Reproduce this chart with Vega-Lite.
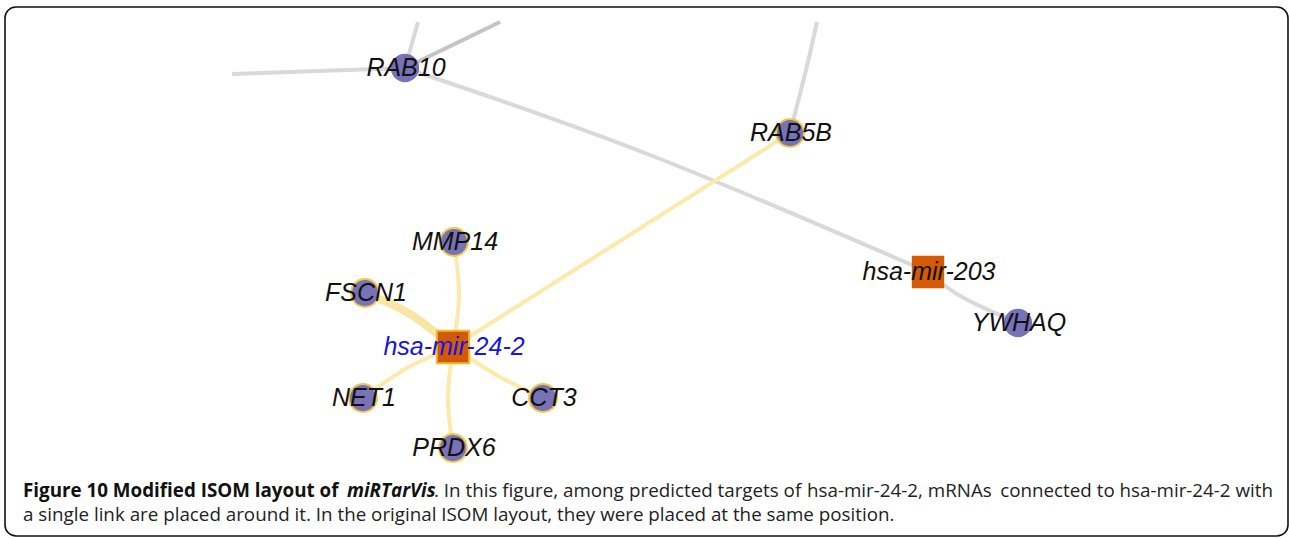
{
  "$schema": "https://vega.github.io/schema/vega-lite/v6.json",
  "width": 1289,
  "height": 538,
  "autosize": {"type": "fit", "contains": "padding"},
  "padding": 0,
  "background": "white",
  "config": {"view": {"stroke": null}},
  "datasets": {
    "frame": [{"x": 5, "x2": 1288, "y": 7, "y2": 536}],
    "edges": [
      {"id": "RAB10-left", "kind": "gray", "o": 1, "x": 232, "y": 74},
      {"id": "RAB10-left", "kind": "gray", "o": 2, "x": 405, "y": 68},
      {"id": "RAB10-up", "kind": "gray", "o": 1, "x": 418, "y": 22},
      {"id": "RAB10-up", "kind": "gray", "o": 2, "x": 405, "y": 68},
      {"id": "RAB10-upright", "kind": "grayDark", "o": 1, "x": 500, "y": 22},
      {"id": "RAB10-upright", "kind": "grayDark", "o": 2, "x": 405, "y": 68},
      {"id": "RAB10-mir203", "kind": "gray", "o": 1, "x": 405, "y": 68},
      {"id": "RAB10-mir203", "kind": "gray", "o": 2, "x": 650, "y": 155},
      {"id": "RAB10-mir203", "kind": "gray", "o": 3, "x": 928, "y": 272},
      {"id": "mir203-YWHAQ", "kind": "gray", "o": 1, "x": 928, "y": 272},
      {"id": "mir203-YWHAQ", "kind": "gray", "o": 2, "x": 962, "y": 297},
      {"id": "mir203-YWHAQ", "kind": "gray", "o": 3, "x": 1018, "y": 323},
      {"id": "RAB5B-up", "kind": "gray", "o": 1, "x": 817, "y": 22},
      {"id": "RAB5B-up", "kind": "gray", "o": 2, "x": 806, "y": 70},
      {"id": "RAB5B-up", "kind": "gray", "o": 3, "x": 790, "y": 133},
      {"id": "mir24-RAB5B", "kind": "yellow", "o": 1, "x": 453, "y": 347},
      {"id": "mir24-RAB5B", "kind": "yellow", "o": 2, "x": 790, "y": 133},
      {"id": "mir24-MMP14", "kind": "yellow", "o": 1, "x": 453, "y": 347},
      {"id": "mir24-MMP14", "kind": "yellow", "o": 2, "x": 459, "y": 295},
      {"id": "mir24-MMP14", "kind": "yellow", "o": 3, "x": 454, "y": 242},
      {"id": "mir24-FSCN1", "kind": "yellowThick", "o": 1, "x": 453, "y": 347},
      {"id": "mir24-FSCN1", "kind": "yellowThick", "o": 2, "x": 410, "y": 314},
      {"id": "mir24-FSCN1", "kind": "yellowThick", "o": 3, "x": 365, "y": 293},
      {"id": "mir24-NET1", "kind": "yellow", "o": 1, "x": 453, "y": 347},
      {"id": "mir24-NET1", "kind": "yellow", "o": 2, "x": 407, "y": 368},
      {"id": "mir24-NET1", "kind": "yellow", "o": 3, "x": 363, "y": 398},
      {"id": "mir24-CCT3", "kind": "yellow", "o": 1, "x": 453, "y": 347},
      {"id": "mir24-CCT3", "kind": "yellow", "o": 2, "x": 500, "y": 377},
      {"id": "mir24-CCT3", "kind": "yellow", "o": 3, "x": 543, "y": 398},
      {"id": "mir24-PRDX6", "kind": "yellow", "o": 1, "x": 453, "y": 347},
      {"id": "mir24-PRDX6", "kind": "yellow", "o": 2, "x": 448, "y": 398},
      {"id": "mir24-PRDX6", "kind": "yellow", "o": 3, "x": 453, "y": 448}
    ],
    "nodes": [
      {"name": "RAB10", "type": "mRNA", "ring": false, "x": 405, "y": 68},
      {"name": "RAB5B", "type": "mRNA", "ring": true, "x": 790, "y": 133},
      {"name": "MMP14", "type": "mRNA", "ring": true, "x": 454, "y": 242},
      {"name": "FSCN1", "type": "mRNA", "ring": true, "x": 365, "y": 293},
      {"name": "NET1", "type": "mRNA", "ring": true, "x": 363, "y": 398},
      {"name": "CCT3", "type": "mRNA", "ring": true, "x": 543, "y": 398},
      {"name": "PRDX6", "type": "mRNA", "ring": true, "x": 453, "y": 448},
      {"name": "YWHAQ", "type": "mRNA", "ring": false, "x": 1018, "y": 323},
      {"name": "hsa-mir-24-2", "type": "miRNA", "ring": true, "x": 453, "y": 347},
      {"name": "hsa-mir-203", "type": "miRNA", "ring": false, "x": 928, "y": 272}
    ],
    "caption": [
      {"part": "bold", "text": "Figure 10 Modified ISOM layout of", "x": 23, "y": 491},
      {"part": "boldItalic", "text": "miRTarVis", "x": 347, "y": 491},
      {"part": "regular", "text": ". In this figure, among", "x": 434, "y": 491},
      {"part": "regular", "text": "predicted targets of", "x": 629, "y": 491},
      {"part": "regular", "text": "hsa-mir-24-2, mRNAs", "x": 807, "y": 491},
      {"part": "regularRight", "text": "connected to hsa-mir-24-2 with", "x": 1273, "y": 491},
      {"part": "regular", "text": "a single link are placed around it. In the original ISOM layout, they were placed at the same position.", "x": 23, "y": 515}
    ]
  },
  "encoding": {
    "x": {"field": "x", "type": "quantitative", "scale": {"domain": [0, 1289], "nice": false, "zero": false}, "axis": null},
    "y": {"field": "y", "type": "quantitative", "scale": {"domain": [0, 538], "nice": false, "zero": false, "reverse": true}, "axis": null}
  },
  "layer": [
    {
      "data": {"name": "frame"},
      "mark": {"type": "rect", "fill": null, "stroke": "#111111", "strokeWidth": 1.6, "cornerRadius": 11},
      "encoding": {"x2": {"field": "x2"}, "y2": {"field": "y2"}}
    },
    {
      "data": {"name": "edges"},
      "transform": [{"filter": "datum.kind == 'gray'"}],
      "mark": {"type": "line", "interpolate": "cardinal", "color": "#d9d9d9", "strokeWidth": 4, "strokeCap": "butt"},
      "encoding": {"detail": {"field": "id"}, "order": {"field": "o", "type": "quantitative"}}
    },
    {
      "data": {"name": "edges"},
      "transform": [{"filter": "datum.kind == 'grayDark'"}],
      "mark": {"type": "line", "interpolate": "cardinal", "color": "#c4c4c4", "strokeWidth": 4, "strokeCap": "butt"},
      "encoding": {"detail": {"field": "id"}, "order": {"field": "o", "type": "quantitative"}}
    },
    {
      "data": {"name": "edges"},
      "transform": [{"filter": "datum.kind == 'yellow'"}],
      "mark": {"type": "line", "interpolate": "cardinal", "color": "#fbeaaa", "strokeWidth": 4, "strokeCap": "round"},
      "encoding": {"detail": {"field": "id"}, "order": {"field": "o", "type": "quantitative"}}
    },
    {
      "data": {"name": "edges"},
      "transform": [{"filter": "datum.kind == 'yellowThick'"}],
      "mark": {"type": "line", "interpolate": "cardinal", "color": "#f9e6a6", "strokeWidth": 8, "strokeCap": "round"},
      "encoding": {"detail": {"field": "id"}, "order": {"field": "o", "type": "quantitative"}}
    },
    {
      "data": {"name": "nodes"},
      "transform": [{"filter": "datum.type == 'mRNA' && datum.ring"}],
      "mark": {"type": "point", "shape": "circle", "filled": true, "fill": "#7872b6", "fillOpacity": 1, "stroke": "#f3c94a", "strokeWidth": 2, "size": 780}
    },
    {
      "data": {"name": "nodes"},
      "transform": [{"filter": "datum.type == 'mRNA' && !datum.ring"}],
      "mark": {"type": "point", "shape": "circle", "filled": true, "fill": "#7872b6", "fillOpacity": 1, "size": 800}
    },
    {
      "data": {"name": "nodes"},
      "transform": [{"filter": "datum.type == 'miRNA' && datum.ring"}],
      "mark": {"type": "point", "shape": "square", "filled": true, "fill": "#d25a06", "fillOpacity": 1, "stroke": "#f0b830", "strokeWidth": 2, "size": 1050}
    },
    {
      "data": {"name": "nodes"},
      "transform": [{"filter": "datum.type == 'miRNA' && !datum.ring"}],
      "mark": {"type": "point", "shape": "square", "filled": true, "fill": "#d45a06", "fillOpacity": 1, "size": 1050}
    },
    {
      "data": {"name": "nodes"},
      "transform": [{"filter": "datum.name != 'hsa-mir-24-2'"}],
      "mark": {"type": "text", "font": "Liberation Sans", "fontStyle": "italic", "fontSize": 25, "color": "#111111", "align": "center", "baseline": "middle", "dx": 1},
      "encoding": {"text": {"field": "name"}}
    },
    {
      "data": {"name": "nodes"},
      "transform": [{"filter": "datum.name == 'hsa-mir-24-2'"}],
      "mark": {"type": "text", "font": "Liberation Sans", "fontStyle": "italic", "fontSize": 25, "color": "#1414e6", "align": "center", "baseline": "middle", "dx": 1},
      "encoding": {"text": {"field": "name"}}
    },
    {
      "data": {"name": "caption"},
      "transform": [{"filter": "datum.part == 'bold'"}],
      "mark": {"type": "text", "font": "Open Sans", "fontWeight": "bold", "fontSize": 18.8, "color": "#111111", "align": "left", "baseline": "middle"},
      "encoding": {"text": {"field": "text"}}
    },
    {
      "data": {"name": "caption"},
      "transform": [{"filter": "datum.part == 'boldItalic'"}],
      "mark": {"type": "text", "font": "Open Sans", "fontWeight": "bold", "fontStyle": "italic", "fontSize": 18.8, "color": "#111111", "align": "left", "baseline": "middle"},
      "encoding": {"text": {"field": "text"}}
    },
    {
      "data": {"name": "caption"},
      "transform": [{"filter": "datum.part == 'regular'"}],
      "mark": {"type": "text", "font": "Open Sans", "fontSize": 18.8, "color": "#222222", "align": "left", "baseline": "middle"},
      "encoding": {"text": {"field": "text"}}
    },
    {
      "data": {"name": "caption"},
      "transform": [{"filter": "datum.part == 'regularRight'"}],
      "mark": {"type": "text", "font": "Open Sans", "fontSize": 18.8, "color": "#222222", "align": "right", "baseline": "middle"},
      "encoding": {"text": {"field": "text"}}
    }
  ]
}
